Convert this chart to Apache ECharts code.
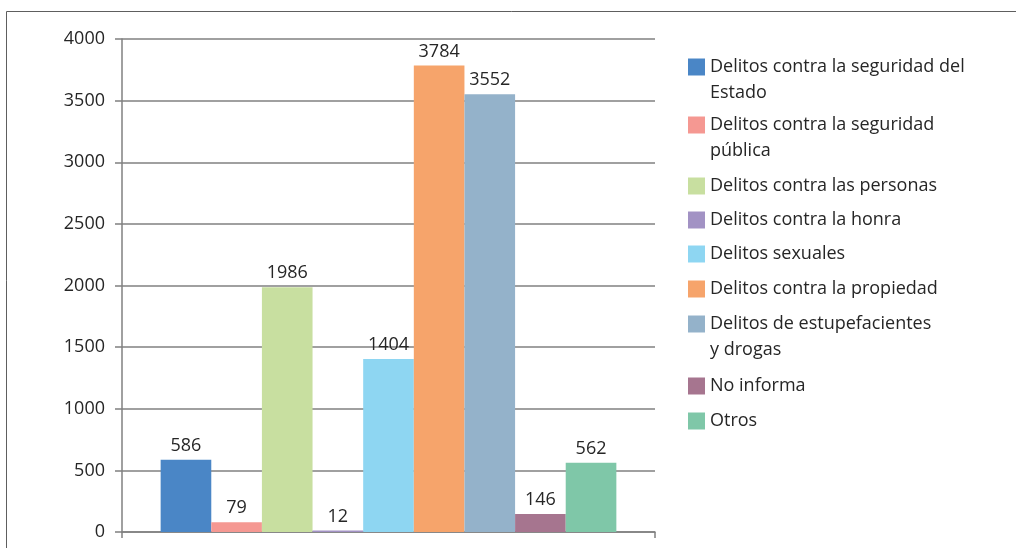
<!DOCTYPE html>
<html>
<head>
<meta charset="utf-8">
<script src="https://cdn.jsdelivr.net/npm/echarts@6/dist/echarts.min.js"></script>
<style>
  html, body { margin: 0; padding: 0; background: #fff; }
  #chart { width: 1016px; height: 548px; }
</style>
</head>
<body>
<div id="chart"></div>
<script>
// datos
const categories = [''];
const seriesNames = [
    'Delitos contra la seguridad del Estado',
    'Delitos contra la seguridad pública',
    'Delitos contra las personas',
    'Delitos contra la honra',
    'Delitos sexuales',
    'Delitos contra la propiedad',
    'Delitos de estupefacientes y drogas',
    'No informa',
    'Otros'
];
const legendLabels = [
    'Delitos contra la seguridad del\nEstado',
    'Delitos contra la seguridad\npública',
    'Delitos contra las personas',
    'Delitos contra la honra',
    'Delitos sexuales',
    'Delitos contra la propiedad',
    'Delitos de estupefacientes\ny drogas',
    'No informa',
    'Otros'
];
const seriesValues = [586, 79, 1986, 12, 1404, 3784, 3552, 146, 562];
const yTicks = [0, 500, 1000, 1500, 2000, 2500, 3000, 3500, 4000];

const colors = ['#4a86c6', '#f59892', '#c8dfa0', '#a292c4', '#8ed6f2',
                '#f6a46b', '#94b2ca', '#a6758f', '#7fc7a8'];
// centro vertical del icono de cada entrada de la leyenda
const legendIconCenters = [67, 125, 186, 220, 254, 289, 324, 386, 421];

const FONT = 'Open Sans';
const TEXT_COLOR = '#262626';
const GRID_COLOR = '#808080';
const LINE_H = 26;

const chart = echarts.init(document.getElementById('chart'));

// una leyenda por entrada; las de dos líneas llevan una línea vacía arriba
// para que el icono quede alineado con la primera línea
const legends = seriesNames.map((name, i) => {
    const twoLines = legendLabels[i].indexOf('\n') >= 0;
    return {
        left: 688,
        top: legendIconCenters[i] - (twoLines ? 1.5 * LINE_H : 0.5 * LINE_H),
        orient: 'vertical',
        padding: 0,
        itemWidth: 17,
        itemHeight: 17,
        icon: 'rect',
        selectedMode: false,
        data: [name],
        formatter: () => (twoLines ? '\n' : '') + legendLabels[i],
        textStyle: {
            fontFamily: FONT,
            fontSize: 18,
            color: TEXT_COLOR,
            lineHeight: LINE_H
        }
    };
});

const option = {
    animation: false,
    color: colors,
    textStyle: { fontFamily: FONT },
    graphic: [{
        type: 'rect',
        shape: { x: 6.5, y: 11.5, width: 1200, height: 700 },
        style: { fill: 'none', stroke: '#5e5e5e', lineWidth: 1 },
        silent: true
    }],
    legend: legends,
    grid: {
        left: 122,
        right: 361,
        top: 39,
        bottom: 16
    },
    xAxis: {
        type: 'category',
        data: categories,
        axisLine: { lineStyle: { color: GRID_COLOR, width: 1.5 } },
        axisTick: { show: true, length: 6, lineStyle: { color: GRID_COLOR, width: 1.5 } },
        axisLabel: { show: false }
    },
    yAxis: {
        type: 'value',
        min: yTicks[0],
        max: yTicks[yTicks.length - 1],
        interval: 500,
        axisLine: { show: true, lineStyle: { color: GRID_COLOR, width: 1.5 } },
        axisTick: { show: true, length: 7, lineStyle: { color: GRID_COLOR, width: 1.5 } },
        splitLine: { lineStyle: { color: GRID_COLOR, width: 1.5 } },
        axisLabel: {
            fontFamily: FONT,
            fontSize: 18,
            color: TEXT_COLOR,
            margin: 17,
            formatter: (v) => String(v)
        }
    },
    series: seriesNames.map((name, i) => ({
        name: name,
        type: 'bar',
        data: [seriesValues[i]],
        barGap: '0%',
        barCategoryGap: '14.5%',
        itemStyle: { color: colors[i] },
        label: {
            show: true,
            position: 'top',
            distance: 5,
            fontFamily: FONT,
            fontSize: 18,
            color: TEXT_COLOR
        }
    }))
};

chart.setOption(option);
</script>
</body>
</html>
